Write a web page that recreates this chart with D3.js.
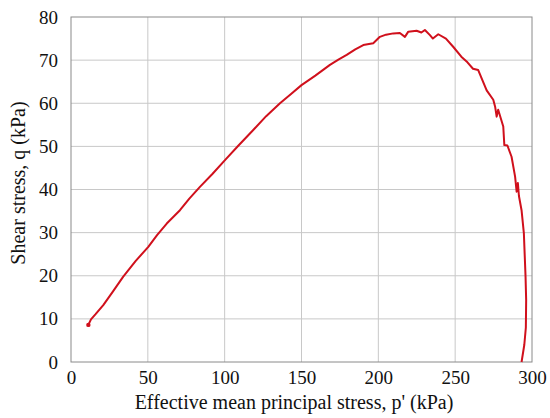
<!DOCTYPE html>
<html>
<head>
<meta charset="utf-8">
<script src="https://cdn.jsdelivr.net/npm/d3@7"></script>
<style>
  html, body { margin: 0; padding: 0; background: #fff; }
  svg text { font-family: "Liberation Serif", "Times New Roman", "DejaVu Serif", serif; }
</style>
</head>
<body>
<svg id="chart" width="550" height="418"></svg>
<script>
// Effective mean principal stress p' (kPa)
const pValues = [11.3, 13, 16, 21, 27, 34, 42, 50.3, 56, 62.3, 70.9, 77, 83.9, 92, 100.2, 109, 118.6, 127, 136, 143, 150, 159, 168.5, 174, 179.4, 185, 190.2, 196.7, 201, 205, 209.7, 214, 217.3, 219.5, 224.9, 228, 230.3, 233.6, 235.5, 239, 244, 248.7, 254, 258, 261.6, 265, 270.5, 274.8, 276, 277, 278, 281.3, 282, 284, 286.7, 289, 290, 290.8, 291.5, 293.2, 294.7, 295.8, 296.2, 296, 295, 293.2];
// Shear stress q (kPa)
const qValues = [8.6, 9.9, 11.1, 13.2, 16.2, 19.8, 23.4, 26.7, 29.4, 32.1, 35.2, 37.9, 40.6, 43.6, 46.8, 50.2, 53.8, 57, 60, 62.1, 64.2, 66.4, 68.9, 70.1, 71.2, 72.5, 73.5, 73.9, 75.4, 75.9, 76.2, 76.3, 75.4, 76.6, 76.8, 76.4, 77, 75.8, 75, 76, 75, 73.1, 70.8, 69.5, 68, 67.7, 63, 60.8, 59.2, 56.9, 58.5, 54.6, 50.3, 50.2, 47.6, 43, 39.5, 41.5, 38.5, 35.2, 29.9, 19.8, 14.4, 8, 4, 0];
const xTicks = [0, 50, 100, 150, 200, 250, 300];
const yTicks = [0, 10, 20, 30, 40, 50, 60, 70, 80];
const xLabel = "Effective mean principal stress, p' (kPa)";
const yLabel = "Shear stress, q (kPa)";

const svg = d3.select("#chart");
const margin = { left: 71, top: 17, right: 18, bottom: 56 };
const W = 550, H = 418;
const x = d3.scaleLinear().domain([0, 300]).range([margin.left, W - margin.right]);
const y = d3.scaleLinear().domain([0, 80]).range([H - margin.bottom, margin.top]);

// grid
svg.append("g").selectAll("line").data(xTicks.slice(1, -1)).join("line")
  .attr("x1", d => x(d)).attr("x2", d => x(d))
  .attr("y1", y(0)).attr("y2", y(80))
  .attr("stroke", "#c8c8c8").attr("stroke-width", 1);
svg.append("g").selectAll("line").data(yTicks.slice(1, -1)).join("line")
  .attr("y1", d => y(d)).attr("y2", d => y(d))
  .attr("x1", x(0)).attr("x2", x(300))
  .attr("stroke", "#c8c8c8").attr("stroke-width", 1);

// frame
svg.append("rect")
  .attr("x", x(0)).attr("y", y(80))
  .attr("width", x(300) - x(0)).attr("height", y(0) - y(80))
  .attr("fill", "none").attr("stroke", "#8a8a8a").attr("stroke-width", 1);

// axes
const xAxis = d3.axisBottom(x).tickValues(xTicks).tickSize(0).tickPadding(9);
const yAxis = d3.axisLeft(y).tickValues(yTicks).tickSize(0).tickPadding(13);
const gx = svg.append("g").attr("transform", `translate(0,${y(0)})`).call(xAxis);
const gy = svg.append("g").attr("transform", `translate(${x(0)},0)`).call(yAxis);
[gx, gy].forEach(g => {
  g.attr("font-family", null).attr("font-size", null);
  g.select(".domain").remove();
  g.selectAll("text").style("font-size", "19px").attr("fill", "#111");
});

// line
const data = pValues.map((p, i) => ({ p, q: qValues[i] }));
svg.append("path").datum(data)
  .attr("d", d3.line().x(d => x(d.p)).y(d => y(d.q)))
  .attr("fill", "none").attr("stroke", "#d0101c")
  .attr("stroke-width", 2).attr("stroke-linejoin", "round");
svg.append("circle").attr("cx", x(pValues[0])).attr("cy", y(qValues[0]))
  .attr("r", 2.2).attr("fill", "#d0101c");

// titles
svg.append("text").attr("x", 294).attr("y", 409)
  .attr("text-anchor", "middle").style("font-size", "20px").attr("fill", "#111")
  .text(xLabel);
svg.append("text").attr("transform", `translate(25,${183}) rotate(-90)`)
  .attr("text-anchor", "middle").style("font-size", "20px").attr("fill", "#111")
  .text(yLabel);
</script>
</body>
</html>
